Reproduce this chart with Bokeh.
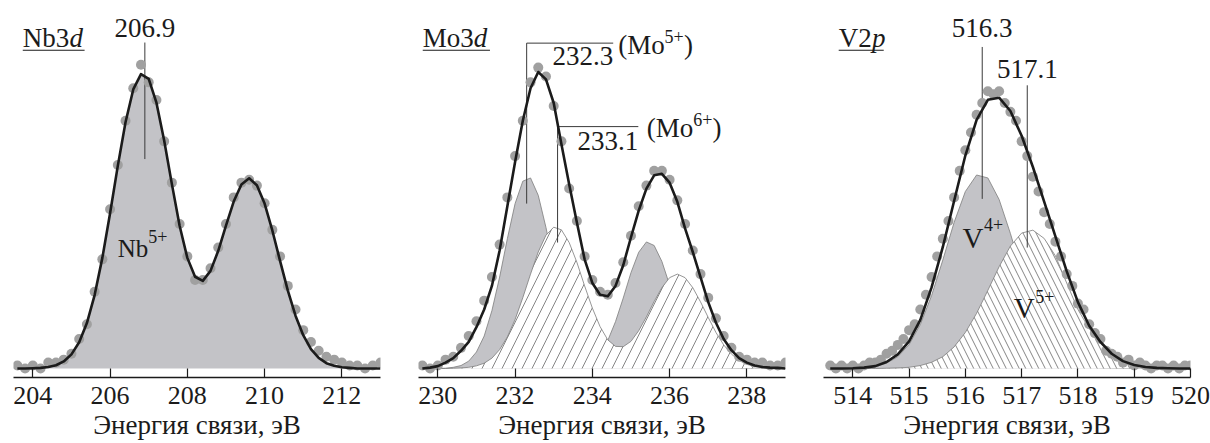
import numpy as np
from bokeh.plotting import figure
from bokeh.models import FixedTicker, Label, Range1d
from bokeh.layouts import row
from bokeh.embed import file_html
from bokeh.resources import INLINE

# ---------------- data (intensity normalised, baseline = 0) ----------------
# Nb3d
nb_energy = np.linspace(203.6, 213.0, 48)
nb_points = [0.01, 0.00, 0.01, 0.00, 0.02, 0.02, 0.03, 0.05, 0.10, 0.15,
             0.26, 0.37, 0.54, 0.69, 0.84, 0.95, 1.03, 0.97, 0.91, 0.77,
             0.63, 0.49, 0.38, 0.30, 0.30, 0.34, 0.41, 0.49, 0.58, 0.63,
             0.64, 0.62, 0.56, 0.47, 0.38, 0.28, 0.20, 0.13, 0.09, 0.06,
             0.04, 0.03, 0.02, 0.01, 0.01, 0.00, 0.01, 0.02]
nb_fit = [0.000, 0.000, 0.001, 0.002, 0.005, 0.011, 0.024, 0.048, 0.089, 0.154,
          0.249, 0.375, 0.526, 0.687, 0.835, 0.946, 0.998, 0.982, 0.901, 0.773,
          0.625, 0.484, 0.375, 0.311, 0.297, 0.331, 0.399, 0.484, 0.566, 0.624,
          0.645, 0.621, 0.559, 0.468, 0.365, 0.265, 0.179, 0.113, 0.066, 0.036,
          0.018, 0.009, 0.004, 0.002, 0.000, 0.000, 0.000, 0.000]
nb_peak_labels = [206.9]
nb_ticks = [204, 206, 208, 210, 212]

# Mo3d
mo_energy = np.linspace(229.6, 239.0, 48)
mo_points = [0.01, 0.00, 0.01, 0.03, 0.04, 0.07, 0.11, 0.16, 0.23, 0.31,
             0.42, 0.58, 0.72, 0.84, 0.97, 1.02, 0.99, 0.89, 0.77, 0.61,
             0.50, 0.38, 0.30, 0.26, 0.25, 0.29, 0.36, 0.45, 0.55, 0.62,
             0.67, 0.67, 0.64, 0.57, 0.49, 0.40, 0.32, 0.24, 0.17, 0.11,
             0.07, 0.04, 0.03, 0.02, 0.02, 0.01, 0.01, 0.02]
mo_fit = [0.000, 0.003, 0.008, 0.020, 0.035, 0.060, 0.090, 0.140, 0.200, 0.280,
          0.400, 0.550, 0.700, 0.840, 0.950, 1.005, 0.980, 0.900, 0.760, 0.625,
          0.495, 0.370, 0.290, 0.250, 0.245, 0.280, 0.350, 0.445, 0.535, 0.610,
          0.655, 0.660, 0.630, 0.565, 0.475, 0.395, 0.310, 0.225, 0.155, 0.100,
          0.062, 0.035, 0.020, 0.010, 0.005, 0.003, 0.002, 0.000]
mo5_component = [0.000, 0.000, 0.000, 0.001, 0.004, 0.010, 0.025, 0.056, 0.110, 0.196,
                 0.310, 0.440, 0.559, 0.635, 0.646, 0.587, 0.478, 0.349, 0.227, 0.134,
                 0.073, 0.042, 0.037, 0.054, 0.095, 0.159, 0.239, 0.325, 0.394, 0.429,
                 0.417, 0.363, 0.283, 0.197, 0.123, 0.068, 0.034, 0.015, 0.006, 0.002,
                 0.001, 0.000, 0.000, 0.000, 0.000, 0.000, 0.000, 0.000]
mo6_component = [0.000, 0.000, 0.000, 0.000, 0.001, 0.002, 0.004, 0.009, 0.018, 0.035,
                 0.064, 0.107, 0.166, 0.240, 0.320, 0.395, 0.452, 0.479, 0.470, 0.427,
                 0.360, 0.280, 0.205, 0.142, 0.097, 0.075, 0.074, 0.092, 0.128, 0.175,
                 0.227, 0.274, 0.308, 0.320, 0.308, 0.274, 0.226, 0.173, 0.122, 0.080,
                 0.049, 0.027, 0.014, 0.007, 0.003, 0.001, 0.001, 0.000]
mo_peak_labels = [232.3, 233.1]
mo_ticks = [230, 232, 234, 236, 238]

# V2p
v_energy = np.linspace(513.6, 520.0, 33)
v_fit = [0.000, 0.000, 0.001, 0.003, 0.008, 0.022, 0.048, 0.092, 0.165, 0.275,
         0.412, 0.568, 0.722, 0.843, 0.911, 0.918, 0.873, 0.789, 0.683, 0.566,
         0.448, 0.330, 0.225, 0.145, 0.090, 0.050, 0.025, 0.012, 0.005, 0.002,
         0.001, 0.000, 0.000]
v4_component = [0.000, 0.000, 0.001, 0.003, 0.007, 0.018, 0.040, 0.081, 0.149, 0.247,
                0.368, 0.495, 0.600, 0.656, 0.646, 0.573, 0.458, 0.330, 0.214, 0.125,
                0.066, 0.031, 0.013, 0.005, 0.002, 0.001, 0.000, 0.000, 0.000, 0.000,
                0.000, 0.000, 0.000]
v5_component = [0.000, 0.000, 0.000, 0.000, 0.000, 0.001, 0.002, 0.004, 0.010, 0.021,
                0.040, 0.073, 0.122, 0.187, 0.265, 0.345, 0.415, 0.459, 0.469, 0.441,
                0.382, 0.290, 0.200, 0.135, 0.085, 0.045, 0.020, 0.008, 0.003, 0.001,
                0.000, 0.000, 0.000]
v_point_energy = np.linspace(513.6, 520.0, 65)
v_points = [0.01, 0.00, 0.01, 0.00, 0.01, 0.00, 0.01, 0.02, 0.02, 0.03,
            0.05, 0.06, 0.08, 0.10, 0.13, 0.15, 0.20, 0.25, 0.31, 0.38,
            0.44, 0.50, 0.58, 0.67, 0.74, 0.80, 0.86, 0.90, 0.94, 0.93,
            0.94, 0.90, 0.87, 0.84, 0.77, 0.72, 0.65, 0.60, 0.53, 0.49,
            0.43, 0.38, 0.32, 0.28, 0.22, 0.20, 0.15, 0.12, 0.10, 0.06,
            0.05, 0.04, 0.02, 0.03, 0.01, 0.02, 0.01, 0.00, 0.01, 0.01,
            0.00, 0.01, 0.00, 0.01, 0.01]
v_peak_labels = [516.3, 517.1]
v_ticks = [514, 515, 516, 517, 518, 519, 520]

x_title = "Энергия связи, эВ"

# ---------------- style ----------------
SERIF = "Liberation Serif"
FILL_GRAY = "#c3c3c7"
EDGE_GRAY = "#7c7c7c"
DOT_GRAY = "#a0a0a0"
INK = "#1b1b1b"
LEADER = "#3a3a3a"
Y_RANGE = (-0.0305, 1.2475)
TEXT_LIFT = 0.031          # compensates the label baseline offset
BIG = "27px"
SUP = "18px"


def make_panel(x_range, ticks, border_left):
    p = figure(frame_width=367, frame_height=377,
               x_range=Range1d(*x_range), y_range=Range1d(*Y_RANGE),
               output_backend="svg", toolbar_location=None, y_axis_location=None,
               min_border_left=border_left, min_border_right=20,
               min_border_top=0, min_border_bottom=66)
    p.outline_line_color = None
    p.xgrid.visible = False
    p.ygrid.visible = False
    ax = p.xaxis[0]
    ax.ticker = FixedTicker(ticks=ticks, minor_ticks=[])
    ax.major_tick_in = 9
    ax.major_tick_out = 0
    ax.minor_tick_in = 0
    ax.minor_tick_out = 0
    ax.axis_line_color = INK
    ax.axis_line_width = 1.3
    ax.major_tick_line_color = INK
    ax.major_tick_line_width = 1.2
    ax.major_label_text_font = SERIF
    ax.major_label_text_font_size = "26px"
    ax.major_label_text_color = INK
    ax.major_label_standoff = 9
    ax.axis_label = x_title
    ax.axis_label_text_font = SERIF
    ax.axis_label_text_font_size = "27px"
    ax.axis_label_text_font_style = "normal"
    ax.axis_label_text_color = INK
    ax.axis_label_standoff = 3
    return p


def txt(p, x, y, s, size=BIG, align="left", style="normal"):
    p.add_layout(Label(x=x, y=y + TEXT_LIFT, text=s, text_font=SERIF, text_font_size=size,
                       text_align=align, text_baseline="alphabetic",
                       text_font_style=style, text_color=INK))


def heading(p, x0, x_italic, x1, base, italic):
    txt(p, x0, 1.09, base)
    txt(p, x_italic, 1.09, italic, style="italic")
    p.segment(x0=[x0], y0=[1.079], x1=[x1], y1=[1.079], line_color=INK, line_width=1.1)


def data_layers(p, energy, fit, pts_x, pts_y):
    p.scatter(pts_x, pts_y, size=10, fill_color=DOT_GRAY, line_color=None)
    p.line(energy, fit, line_color=INK, line_width=2.6, line_join="round")


# ---------------- Nb3d ----------------
p1 = make_panel((203.5, 213.0), nb_ticks, 13)
p1.varea(x=nb_energy, y1=0, y2=nb_fit, fill_color=FILL_GRAY)
pk = nb_peak_labels[0]
p1.segment(x0=[pk], y0=[0.71], x1=[pk], y1=[1.105], line_color=LEADER, line_width=1)
data_layers(p1, nb_energy, nb_fit, nb_energy, nb_points)
txt(p1, pk, 1.122, f"{pk:.1f}", align="center")
heading(p1, 203.74, 204.95, 205.34, "Nb3", "d")
txt(p1, 206.2, 0.377, "Nb", size="25px")
txt(p1, 206.99, 0.415, "5+", size=SUP)

# ---------------- Mo3d ----------------
p2 = make_panel((229.5, 239.0), mo_ticks, 18)
p2.varea(x=mo_energy, y1=0, y2=mo5_component, fill_color=FILL_GRAY)
p2.line(mo_energy, mo5_component, line_color=EDGE_GRAY, line_width=0.8)
p2.varea(x=mo_energy, y1=0, y2=mo6_component, fill_color="white",
         hatch_pattern="/", hatch_color="#505050", hatch_scale=20, hatch_weight=0.7)
p2.line(mo_energy, mo6_component, line_color=EDGE_GRAY, line_width=0.8)
m5, m6 = mo_peak_labels
p2.segment(x0=[m5, m5, m6, m6], y0=[0.559, 1.103, 0.427, 0.82],
           x1=[m5, 234.54, m6, 235.19], y1=[1.103, 1.103, 0.82, 0.82],
           line_color=LEADER, line_width=1)
data_layers(p2, mo_energy, mo_fit, mo_energy, mo_points)
heading(p2, 229.61, 230.93, 231.35, "Mo3", "d")
txt(p2, 234.54, 1.027, f"{m5:.1f}", align="right")
txt(p2, 234.67, 1.067, "(Mo")
txt(p2, 235.87, 1.095, "5+", size=SUP)
txt(p2, 236.37, 1.067, ")")
txt(p2, 235.19, 0.739, f"{m6:.1f}", align="right")
txt(p2, 235.41, 0.784, "(Mo")
txt(p2, 236.61, 0.812, "6+", size=SUP)
txt(p2, 237.11, 0.784, ")")

# ---------------- V2p ----------------
p3 = make_panel((513.48, 520.0), v_ticks, 18)
p3.varea(x=v_energy, y1=0, y2=v4_component, fill_color=FILL_GRAY)
p3.line(v_energy, v4_component, line_color=EDGE_GRAY, line_width=0.8)
p3.varea(x=v_energy, y1=0, y2=v5_component, fill_color="white",
         hatch_pattern="\\", hatch_color="#505050", hatch_scale=13, hatch_weight=0.7)
p3.line(v_energy, v5_component, line_color=EDGE_GRAY, line_width=0.8)
v4, v5 = v_peak_labels
p3.segment(x0=[v4, v5], y0=[0.575, 0.41], x1=[v4, v5], y1=[1.09, 0.96],
           line_color=LEADER, line_width=1)
data_layers(p3, v_energy, v_fit, v_point_energy, v_points)
heading(p3, 513.75, 514.34, 514.55, "V2", "p")
txt(p3, v4, 1.124, f"{v4:.1f}", align="center")
txt(p3, v5, 0.984, f"{v5:.1f}", align="center")
txt(p3, 515.95, 0.411, "V", size="29px")
txt(p3, 516.33, 0.458, "4+", size=SUP)
txt(p3, 516.86, 0.174, "V", size="29px")
txt(p3, 517.24, 0.2136, "5+", size=SUP)

layout = row(p1, p2, p3)
open("out.html", "w").write(file_html(layout, INLINE))
